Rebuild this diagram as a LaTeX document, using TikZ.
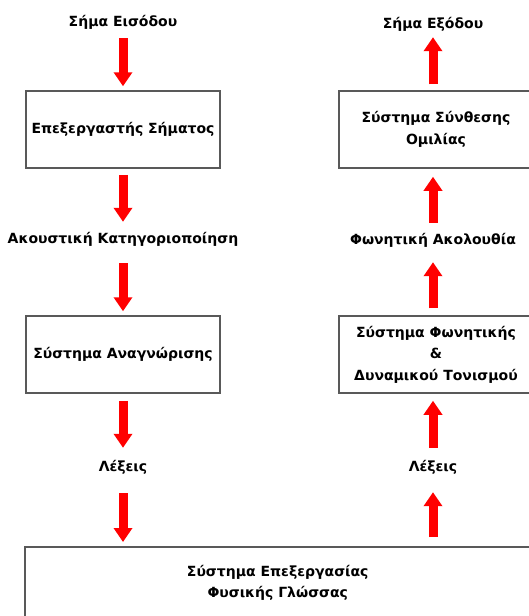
\documentclass[tikz,border=0pt]{standalone}
\usepackage{fontspec}
\setmainfont{DejaVu Sans}
\usetikzlibrary{arrows.meta}

\begin{document}
\begin{tikzpicture}[
    x=1pt, y=-1pt,
    stage/.style={rectangle, draw=black!65, line width=1.5pt, fill=white,
                  minimum width=194pt, minimum height=77pt, align=center,
                  font=\fontsize{14}{21.5}\selectfont\bfseries},
    signal/.style={inner sep=0pt, text height=10pt, text depth=3pt,
                   font=\fontsize{14}{21.5}\selectfont\bfseries},
    flow/.style={draw=red, line width=9pt,
                 -{Triangle[width=18pt, length=14pt]}},
  ]
    \useasboundingbox (0,0) rectangle (529,616);
    \clip (0,0) rectangle (529,616);

    % recognition side
    \node[signal] (inSig) at (123,23) {Σήμα Εισόδου};
    \node[stage] (preproc) at (123,129.5) {Επεξεργαστής Σήματος};
    \node[signal] (acoustic) at (123,240) {Ακουστική Κατηγοριοποίηση};
    \node[stage] (recog) at (123,354.5) {Σύστημα Αναγνώρισης};
    \node[signal] (wordsIn) at (123,468) {Λέξεις};

    % synthesis side
    \node[signal] (outSig) at (433,25) {Σήμα Εξόδου};
    \node[stage] (synth) at (436,129.5) {Σύστημα Σύνθεσης\\Ομιλίας};
    \node[signal] (phonetic) at (433,241) {Φωνητική Ακολουθία};
    \node[stage] (prosody) at (436,354.5) {Σύστημα Φωνητικής\\\&\\Δυναμικού Τονισμού};
    \node[signal] (wordsOut) at (433,468) {Λέξεις};

    \node[stage, anchor=north west, minimum width=506pt, minimum height=72pt]
      (nlp) at (24,546) {Σύστημα Επεξεργασίας\\Φυσικής Γλώσσας};

    \draw[flow, shorten <=8.5pt, shorten >=4pt] (inSig.south) -- (preproc.north);
    \draw[flow, shorten <=6pt, shorten >=11.5pt] (preproc.south) -- (acoustic.north);
    \draw[flow, shorten <=16.5pt, shorten >=4pt] (acoustic.south) -- (recog.north);
    \draw[flow, shorten <=7pt, shorten >=13.5pt] (recog.south) -- (wordsIn.north);
    \draw[flow, shorten <=18.5pt, shorten >=4pt] (wordsIn.south) -- (wordsIn |- nlp.north);

    \draw[flow, shorten <=9pt, shorten >=17.5pt] (wordsOut |- nlp.north) -- (wordsOut.south);
    \draw[flow, shorten <=13.5pt, shorten >=7pt] (wordsOut.north) -- (wordsOut |- prosody.south);
    \draw[flow, shorten <=7pt, shorten >=14.5pt] (phonetic |- prosody.north) -- (phonetic.south);
    \draw[flow, shorten <=11.5pt, shorten >=8pt] (phonetic.north) -- (phonetic |- synth.south);
    \draw[flow, shorten <=6pt, shorten >=5.5pt] (outSig |- synth.north) -- (outSig.south);
  \end{tikzpicture}
\end{document}
